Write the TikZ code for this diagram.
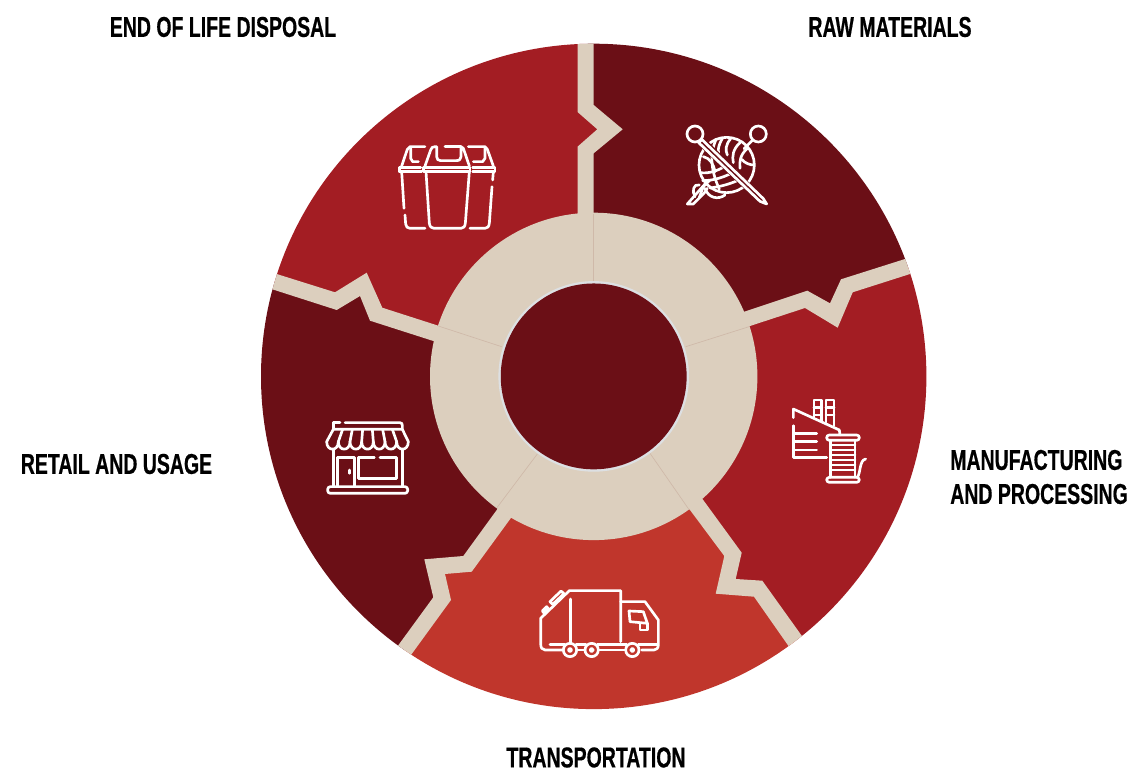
\documentclass[tikz,border=0pt]{standalone}
\usepackage{fontspec}
\newfontfamily\lab[FakeStretch=0.68,FakeBold=0.5]{Liberation Sans Bold}
\definecolor{maroon}{HTML}{6B0F16}
\definecolor{crimson}{HTML}{A31D23}
\definecolor{brick}{HTML}{C0362C}
\definecolor{sand}{HTML}{DCCFBE}
\definecolor{seam}{HTML}{CFB9A9}
\definecolor{halo}{HTML}{DDE0E3}
\tikzset{
  lbl/.style={font=\lab\fontsize{21.5}{25.5}\selectfont,text=black,inner sep=0pt},
  ico/.style={draw=white,line width=#1,line cap=round,line join=round},
  ico/.default=2pt,
  seamline/.style={draw=seam,line width=0.5pt}
}
\begin{document}
\begin{tikzpicture}[x=0.75pt,y=-0.75pt]
\useasboundingbox (0,0) rectangle (1129,773);
\coordinate (c) at (593.7,376.4);
\begin{scope}
\clip (c) circle (332.7*0.75pt);
\fill[maroon] (c) -- (585.5,376) -- (585.5,150) -- (610,129) -- (585.5,108) -- (585.5,0) -- (1000,0) -- (1000,240) -- (925,261) -- (907,266) -- (847,286) -- (834,315) -- (806,299) -- (745,318) -- cycle;
\fill[crimson] (c) -- (745,318) -- (806,299) -- (834,315) -- (847,286) -- (907,266) -- (925,261) -- (1000,240) -- (1000,773) -- (805,773) -- (805,654) -- (795,640) -- (758,589) -- (726,586) -- (733,554) -- (696,505) -- cycle;
\fill[brick] (c) -- (696,505) -- (733,554) -- (726,586) -- (758,589) -- (795,640) -- (805,654) -- (805,773) -- (395,773) -- (395,663) -- (405,649) -- (442,599) -- (435,567) -- (467,564) -- (503,514) -- cycle;
\fill[maroon] (c) -- (503,514) -- (467,564) -- (435,567) -- (442,599) -- (405,649) -- (395,663) -- (395,773) -- (200,773) -- (200,260) -- (260,277) -- (275,282) -- (336,301) -- (363,284) -- (376,314) -- (436,333) -- cycle;
\fill[crimson] (c) -- (436,333) -- (376,314) -- (363,284) -- (336,301) -- (275,282) -- (260,277) -- (200,260) -- (200,0) -- (585.5,0) -- (585.5,108) -- (610,129) -- (585.5,150) -- (585.5,376) -- cycle;
% cracks
\fill[sand] (577.5,20) -- (577.5,112) -- (597.3,129.3) -- (577.5,146.7) -- (577.5,225) -- (593.7,225) -- (593.7,153.3) -- (622.7,129.3) -- (593.7,105) -- (593.7,20) -- cycle;
\fill[sand] (736,314.5) -- (807.3,290.7) -- (830,303.3) -- (841,279.3) -- (905,259) -- (920,254) -- (925,269) -- (910,274) -- (852.7,292.3) -- (837.7,327.7) -- (805,308) -- (750,326) -- (740,329) -- cycle;
\fill[sand] (695,490) -- (702.7,499.3) -- (741.7,552.7) -- (735.7,579) -- (762.3,580.7) -- (800.7,634.3) -- (810.7,648.3) -- (798.3,659.7) -- (788.3,645.7) -- (754,596.7) -- (715.7,593.7) -- (724.3,556) -- (690,510) -- (682,500) -- cycle;
\fill[sand] (505,498) -- (496.7,510) -- (463.3,556) -- (424.3,559.3) -- (433.3,597.3) -- (399,644.3) -- (389,658) -- (401.7,668) -- (411.7,654) -- (451,600) -- (445,574) -- (471.7,571.7) -- (510.7,518.3) -- (518,508) -- cycle;
\fill[sand] (261.7,269) -- (276.7,274) -- (335,292.3) -- (366.7,272.7) -- (382.3,307.7) -- (438.3,325.7) -- (450,330) -- (445,345) -- (433.3,341) -- (370,320.7) -- (360,296) -- (336.7,310) -- (272.3,289.3) -- (257.3,284.3) -- cycle;
\end{scope}
% hub
\fill[sand] (c) circle (163.7*0.75pt);
\draw[seamline] (593.7,214) -- (593.7,284);
\draw[seamline] (749,326.7) -- (685.7,346.7);
\draw[seamline] (689.3,510) -- (650,453.3);
\draw[seamline] (496.7,508) -- (537.3,454);
\draw[seamline] (438.3,326) -- (501.7,346.7);
\fill[halo] (c) circle (95.3*0.75pt);
\node[circle,fill=maroon,minimum size=139.4pt,inner sep=0pt] (hub) at (c) {};
% yarn icon
\begin{scope}[shift={(660,100)},scale=1/3]
\draw[ico] (200,195) circle (83);
\draw[ico] (168,118) .. controls (150,160) and (150,205) .. (178,268);
\draw[ico] (130,170) .. controls (150,175) and (160,190) .. (165,215);
\draw[ico] (188,114) .. controls (172,140) and (172,160) .. (180,172);
\draw[ico] (212,116) .. controls (196,135) and (196,150) .. (202,165);
\draw[ico] (240,128) .. controls (218,148) and (216,170) .. (220,188);
\draw[ico] (262,145) .. controls (240,165) and (238,185) .. (240,205);
\draw[ico] (120,218) .. controls (150,222) and (180,210) .. (205,192);
\draw[ico] (128,242) .. controls (160,242) and (195,232) .. (228,212);
\draw[ico] (150,264) .. controls (180,260) and (215,252) .. (248,234);
\draw[ico] (245,178) .. controls (255,190) and (270,195) .. (282,195);
\fill[maroon] (106,126) -- (126,106) -- (325,305) -- (322,318) -- (300,312) -- cycle;
\draw[ico] (105,102) circle (24);
\draw[ico] (295,102) circle (24);
\draw[ico] (126,119) -- (310,296) -- (320,312) -- (300,304) -- (116,128) -- cycle;
\draw[ico] (278,120) -- (252,146);
\draw[ico] (150,240) -- (130,260) -- (118,292);
\draw[ico] (135,252) -- (82,312) -- (100,312) -- (132,280) -- (142,265);
\draw[ico] (118,255) .. controls (100,250) and (95,275) .. (105,290);
\draw[ico] (135,265) .. controls (145,295) and (175,300) .. (195,285);
\end{scope}
% bins icon
\begin{scope}[shift={(380,130)},scale=1/3]
\draw[ico] (130,118) -- (130,112) -- (270,112) -- (270,125) -- (130,125) -- cycle;
\draw[ico] (138,125) -- (148,280) .. controls (149,290) and (155,295) .. (162,295) -- (243,295) .. controls (250,295) and (255,290) .. (256,280) -- (268,125);
\draw[ico] (135,108) -- (152,60) .. controls (154,53) and (158,50) .. (165,50) -- (170,50) -- (170,80) .. controls (170,88) and (175,92) .. (182,92) -- (228,92) .. controls (238,92) and (243,88) .. (243,80) -- (243,50) -- (250,55) -- (268,108);
\draw[ico] (195,50) -- (243,50);
\draw[ico] (58,125) -- (125,125);
\draw[ico] (58,125) -- (58,112) -- (122,112);
\draw[ico] (65,108) -- (82,58) -- (90,50) -- (135,50);
\draw[ico] (92,55) -- (92,85) -- (98,95) -- (115,95);
\draw[ico] (65,125) -- (72,235);
\draw[ico] (75,255) -- (77,282) .. controls (78,290) and (82,295) .. (90,295) -- (135,295);
\draw[ico] (278,125) -- (345,125) -- (345,112) -- (278,112);
\draw[ico] (340,108) -- (322,58) -- (315,50) -- (265,50);
\draw[ico] (315,55) -- (315,85) -- (308,95) -- (280,95);
\draw[ico] (340,125) -- (338,150);
\draw[ico] (336,170) -- (328,280) .. controls (327,290) and (322,295) .. (315,295) -- (270,295);
\end{scope}
% factory icon
\begin{scope}[shift={(770,385)},scale=1/3]
\draw[ico] (70,98) -- (70,72) -- (208,135) -- (210,150);
\draw[ico] (70,122) -- (70,218) -- (170,218);
\draw[ico] (70,145) -- (140,145);
\draw[ico] (70,170) -- (140,170);
\draw[ico] (70,195) -- (140,195);
\draw[ico] (132,98) -- (132,45) -- (155,45) -- (155,108);
\draw[ico] (132,68) -- (155,68);
\draw[ico] (132,90) -- (155,90);
\draw[ico] (168,112) -- (168,45) -- (192,45) -- (192,122);
\draw[ico] (168,68) -- (192,68);
\draw[ico] (168,90) -- (192,90);
\draw[ico,rounded corners=2pt] (170,150) rectangle (268,166);
\draw[ico,rounded corners=2pt] (170,277) rectangle (268,292);
\draw[ico] (182,166) -- (182,277);
\draw[ico] (255,166) -- (255,277);
\foreach \yy in {180,195,210,225,240,255}
  \draw[ico] (182,\yy) -- (255,\yy);
\draw[ico] (262,277) .. controls (272,265) and (268,225) .. (287,222);
\end{scope}
% truck icon
\begin{scope}[shift={(530,575)},scale=1/3]
\draw[ico] (100,225) -- (45,225) .. controls (36,225) and (32,218) .. (32,205) -- (32,130) -- (118,47) -- (272,47) -- (272,200);
\draw[ico] (272,80) -- (345,80) -- (385,135) -- (385,210) .. controls (385,220) and (378,225) .. (372,225) -- (335,225);
\draw[ico] (140,225) -- (165,225);
\draw[ico] (205,225) -- (287,225);
\draw[ico] (122,72) -- (122,205);
\draw[ico] (60,208) -- (105,208);
\draw[ico] (138,208) -- (168,208);
\draw[ico] (202,208) -- (290,208);
\draw[ico] (325,208) -- (380,208);
\draw[ico] (297,108) -- (340,110) -- (352,145) -- (300,140) -- cycle;
\draw[ico] (330,145) -- (330,165) -- (352,165) -- (352,145);
\draw[ico] (37,108) -- (50,95) -- (55,101) -- (42,114) -- cycle;
\draw[ico] (60,80) -- (93,48) -- (102,56) -- (68,88) -- cycle;
\foreach \xx in {120,185,307}{
  \draw[ico] (\xx,225) circle (20);
  \draw[ico] (\xx,225) circle (5);
}
\end{scope}
% store icon
\begin{scope}[shift={(315,410)},scale=1/3]
\draw[ico] (75,38) -- (55,38) -- (55,58);
\draw[ico] (90,38) -- (255,38) .. controls (260,38) and (262,42) .. (262,46) -- (262,58) -- (55,58) -- (35,95);
\draw[ico] (262,58) -- (280,95);
\draw[ico] (35,95) .. controls (35,125) and (70,125) .. (70,95) .. controls (70,125) and (105,125) .. (105,95) .. controls (105,125) and (140,125) .. (140,95) .. controls (140,125) and (175,125) .. (175,95) .. controls (175,125) and (210,125) .. (210,95) .. controls (210,125) and (245,125) .. (245,95) .. controls (245,125) and (280,125) .. (280,95);
\draw[ico] (83,58) -- (70,95);
\draw[ico] (112,58) -- (105,95);
\draw[ico] (143,58) -- (140,95);
\draw[ico] (172,58) -- (175,95);
\draw[ico] (203,58) -- (210,95);
\draw[ico] (232,58) -- (245,95);
\draw[ico] (55,120) -- (55,228);
\draw[ico] (262,120) -- (262,228);
\draw[ico] (68,228) -- (68,142) -- (118,142) -- (118,228);
\draw[ico] (103,180) -- (103,190);
\draw[ico] (178,142) -- (130,142) -- (130,205) -- (245,205) -- (245,142) -- (195,142);
\draw[ico,rounded corners=2pt] (38,230) rectangle (278,250);
\end{scope}
% labels
\node[lbl] (eol) at (223,27) {END OF LIFE DISPOSAL};
\node[lbl] (raw) at (890,27) {RAW MATERIALS};
\node[lbl] (ret) at (116.5,464) {RETAIL AND USAGE};
\node[lbl] (tra) at (596,757.5) {TRANSPORTATION};
\node[lbl,anchor=west] (man) at (950,460) {MANUFACTURING};
\node[lbl,anchor=west] (pro) at (950,494) {AND PROCESSING};
\end{tikzpicture}
\end{document}
